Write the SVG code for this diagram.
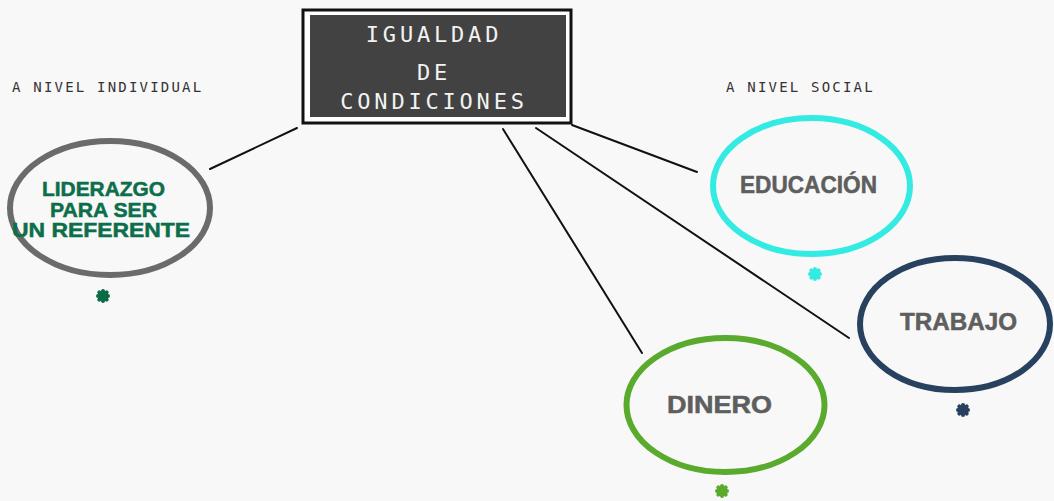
<svg xmlns="http://www.w3.org/2000/svg" width="1054" height="501" viewBox="0 0 1054 501">
  <style>
    .bg { fill: #f8f8f8; }
    .title { font-family: "DejaVu Sans Mono", "Liberation Mono", monospace; font-size: 22px; fill: #f2f2f2; letter-spacing: 3.8px; text-anchor: middle; }
    .side { font-family: "DejaVu Sans Mono", "Liberation Mono", monospace; font-size: 14px; fill: #333333; letter-spacing: 2.2px; }
    .node { fill: none; stroke-width: 6; }
    .lbl { font-family: "Liberation Sans", Arial, sans-serif; font-weight: bold; font-size: 23px; fill: #5e5e5e; text-anchor: middle; stroke: #5e5e5e; stroke-width: 0.5; }
    .lead { fill: #0c6e4a; stroke: #0c6e4a; font-size: 20px; }
    .conn line { stroke: #111111; stroke-width: 2; stroke-linecap: round; }
    .ast line { stroke-width: 4; stroke-linecap: round; }
  </style>
  <defs>
    <g id="ast" class="ast">
      <line x1="0" y1="-5" x2="0" y2="5"/>
      <line x1="-5" y1="0" x2="5" y2="0"/>
      <line x1="-3.7" y1="-3.7" x2="3.7" y2="3.7"/>
      <line x1="-3.7" y1="3.7" x2="3.7" y2="-3.7"/>
    </g>
  </defs>
  <rect class="bg" x="0" y="0" width="1054" height="501"/>

  <g id="connectors" class="conn">
    <line x1="297" y1="128" x2="210" y2="169"/>
    <line x1="503" y1="129" x2="642" y2="353"/>
    <line x1="536" y1="128" x2="849" y2="338"/>
    <line x1="572" y1="125" x2="697" y2="172"/>
  </g>

  <g id="title">
    <rect x="303" y="10" width="268" height="113" fill="#ffffff" stroke="#111111" stroke-width="3"/>
    <rect x="310" y="15" width="256" height="102" fill="#424242"/>
    <text class="title" x="434" y="42">IGUALDAD</text>
    <text class="title" x="434" y="80">DE</text>
    <text class="title" x="434" y="109">CONDICIONES</text>
  </g>

  <g id="label-individual">
    <text class="side" x="12" y="92">A NIVEL INDIVIDUAL</text>
  </g>
  <g id="label-social">
    <text class="side" x="726" y="92">A NIVEL SOCIAL</text>
  </g>

  <g id="node-liderazgo">
    <ellipse class="node" cx="110" cy="208" rx="100" ry="67" stroke="#6b6b6b"/>
    <text class="lbl lead" x="103.5" y="196" textLength="123" lengthAdjust="spacingAndGlyphs">LIDERAZGO</text>
    <text class="lbl lead" x="103.5" y="216.5" textLength="107" lengthAdjust="spacingAndGlyphs">PARA SER</text>
    <text class="lbl lead" x="101" y="237" textLength="178" lengthAdjust="spacingAndGlyphs">UN REFERENTE</text>
    <use href="#ast" x="103" y="296" stroke="#0b6b45"/>
  </g>

  <g id="node-educacion">
    <ellipse class="node" cx="811.5" cy="186" rx="98.5" ry="68" stroke="#33ebe3"/>
    <text class="lbl" x="808.5" y="193" textLength="137" lengthAdjust="spacingAndGlyphs">EDUCACIÓN</text>
    <use href="#ast" x="815" y="274" stroke="#33ebe3"/>
  </g>

  <g id="node-trabajo">
    <ellipse class="node" cx="955" cy="324" rx="95" ry="66" stroke="#27415f"/>
    <text class="lbl" x="958.5" y="330" textLength="117" lengthAdjust="spacingAndGlyphs">TRABAJO</text>
    <use href="#ast" x="963" y="410" stroke="#27415f"/>
  </g>

  <g id="node-dinero">
    <ellipse class="node" cx="725.5" cy="405" rx="99" ry="67" stroke="#5aab2d"/>
    <text class="lbl" x="719.5" y="413" font-size="25" textLength="105" lengthAdjust="spacingAndGlyphs">DINERO</text>
    <use href="#ast" x="722" y="491" stroke="#5aab2d"/>
  </g>
</svg>
